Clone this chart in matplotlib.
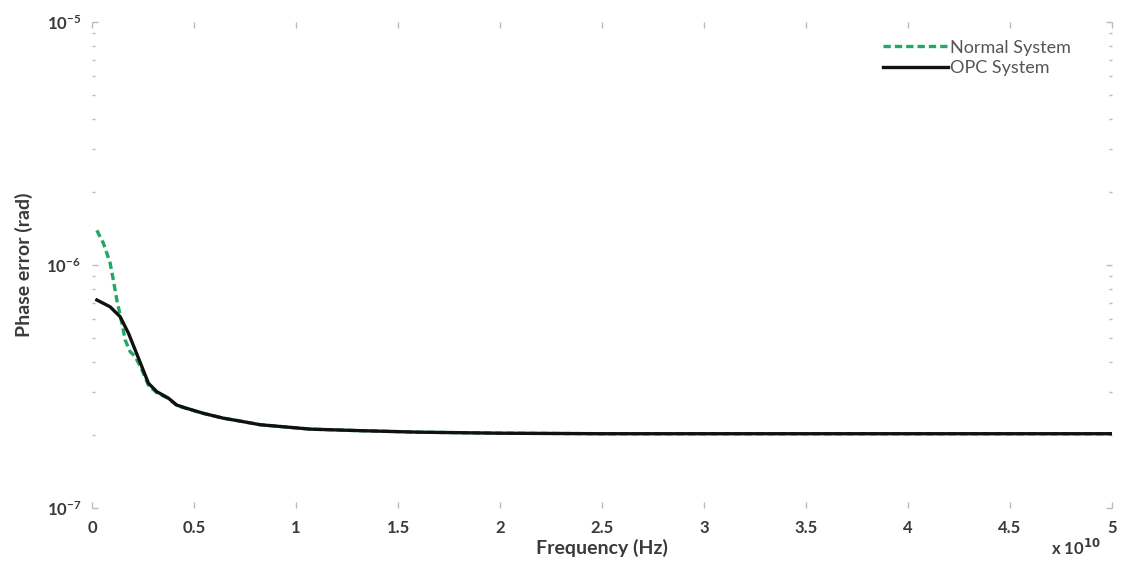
import numpy as np
import matplotlib
matplotlib.use("Agg")
import matplotlib.pyplot as plt
from matplotlib.ticker import LogLocator, NullFormatter, FixedLocator, FuncFormatter

# Data (frequency in units of 1e10 Hz)
freq_opc = [0.023, 0.088, 0.137, 0.178, 0.211, 0.244, 0.276, 0.317, 0.374, 0.415, 0.464,
            0.546, 0.644, 0.709, 0.824, 1.07, 1.31, 1.6, 2.0, 2.5, 3.0, 3.5, 4.0, 4.5, 5.0]
err_opc = [7.18e-7, 6.73e-7, 6.13e-7, 5.24e-7, 4.47e-7, 3.81e-7, 3.26e-7, 3.01e-7, 2.83e-7,
           2.65e-7, 2.57e-7, 2.45e-7, 2.34e-7, 2.29e-7, 2.20e-7, 2.11e-7, 2.08e-7, 2.05e-7,
           2.03e-7, 2.02e-7, 2.02e-7, 2.02e-7, 2.02e-7, 2.02e-7, 2.02e-7]

freq_normal = [0.023, 0.055, 0.088, 0.104, 0.121, 0.146, 0.162, 0.186, 0.211, 0.244, 0.276,
               0.317, 0.374, 0.415, 0.464, 0.546, 0.644, 0.709, 0.824, 1.07, 1.31, 1.6, 2.0,
               2.5, 3.0, 3.5, 4.0, 4.5, 5.0]
err_normal = [1.39e-6, 1.23e-6, 1.02e-6, 8.67e-7, 7.18e-7, 5.75e-7, 4.91e-7, 4.40e-7, 4.20e-7,
              3.70e-7, 3.20e-7, 2.98e-7, 2.82e-7, 2.64e-7, 2.56e-7, 2.45e-7, 2.34e-7, 2.29e-7,
              2.20e-7, 2.11e-7, 2.08e-7, 2.05e-7, 2.03e-7, 2.02e-7, 2.02e-7, 2.02e-7, 2.02e-7,
              2.02e-7, 2.02e-7]

xticks = [0, 0.5, 1, 1.5, 2, 2.5, 3, 3.5, 4, 4.5, 5]
labels = ["Normal System", "OPC System"]

plt.rcParams['font.family'] = ['Lato', 'DejaVu Sans']
text_color = "#3a3a3a"

fig = plt.figure(figsize=(11.24, 5.70), dpi=100)
ax = fig.add_axes([0.082, 0.109, 0.907, 0.852])

scale = 1e10
ax.plot(np.array(freq_normal) * scale, err_normal, linestyle=(0, (2.2, 1.2)),
        color="#22a866", linewidth=2.4, label=labels[0])
ax.plot(np.array(freq_opc) * scale, err_opc, color="#111111", linewidth=2.4, label=labels[1])

ax.set_yscale("log")
ax.set_xlim(0, 5 * scale)
ax.set_ylim(1e-7, 1e-5)
ax.xaxis.set_major_locator(FixedLocator([t * scale for t in xticks]))
ax.xaxis.set_major_formatter(FuncFormatter(lambda v, p: "%g" % (v / scale)))
ax.yaxis.set_minor_locator(LogLocator(base=10, subs=np.arange(2, 10)))
ax.yaxis.set_minor_formatter(NullFormatter())

for s in ax.spines.values():
    s.set_visible(False)

ax.tick_params(axis="both", which="both", direction="in", top=True, right=True,
               color="#bbbbbb", labelcolor=text_color, labelsize=12)
ax.tick_params(axis="both", which="major", length=4, width=1)
ax.tick_params(axis="both", which="minor", length=2, width=1)
ax.tick_params(axis="x", which="major", pad=9)
ax.tick_params(axis="y", which="major", pad=8)
for lab in ax.get_xticklabels() + ax.get_yticklabels():
    lab.set_fontweight("bold")

fig.text(0.957, 0.038, r"x 10$^{\mathbf{10}}$", fontsize=12, color=text_color,
         fontweight="bold", ha="center", va="center")

ax.set_xlabel("Frequency (Hz)", fontsize=14, color=text_color, labelpad=2, fontweight="bold")
ax.set_ylabel("Phase error (rad)", fontsize=14, color=text_color, labelpad=10, fontweight="bold")

leg = ax.legend(loc="upper right", frameon=False, fontsize=13, handlelength=3.6,
                handletextpad=0.1, borderaxespad=0.3, labelspacing=0.25,
                bbox_to_anchor=(0.972, 0.99))
for t in leg.get_texts():
    t.set_color("#555555")

fig.savefig("out.png", dpi=100)
